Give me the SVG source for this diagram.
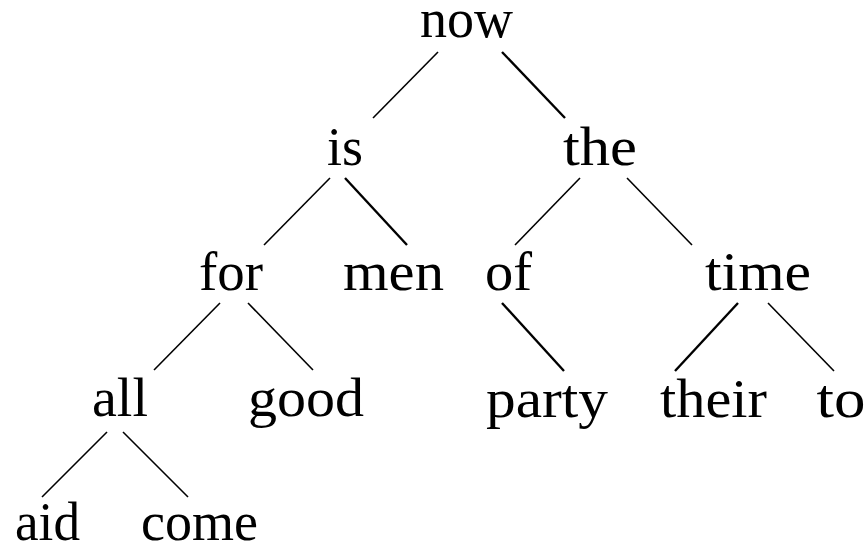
<svg xmlns="http://www.w3.org/2000/svg" width="868" height="546" viewBox="0 0 868 546">
<style>
text{font-family:"Liberation Serif","DejaVu Serif",serif;font-size:54px;fill:#000;text-anchor:middle}
.e line{stroke:#000;stroke-width:1.6;stroke-linecap:butt}
.e line.b{stroke-width:2.4}
</style>
<rect width="868" height="546" fill="#fff"/>
<g class="e" id="edges">
<line x1="438" y1="52" x2="373" y2="118"/>
<line class="b" x1="502" y1="52" x2="565" y2="118"/>
<line x1="330" y1="178" x2="264" y2="245"/>
<line class="b" x1="345" y1="178" x2="407" y2="245"/>
<line x1="580" y1="178" x2="515" y2="245"/>
<line x1="627" y1="178" x2="692" y2="245"/>
<line x1="220" y1="303" x2="154" y2="370"/>
<line x1="248" y1="303" x2="313" y2="370"/>
<line class="b" x1="502" y1="303" x2="564" y2="371"/>
<line class="b" x1="738" y1="303" x2="675" y2="371"/>
<line x1="768" y1="303" x2="834" y2="371"/>
<line x1="107" y1="432" x2="42" y2="497"/>
<line x1="123" y1="432" x2="188" y2="497"/>
</g>
<g id="n-now"><text x="466.5" y="37" textLength="93" lengthAdjust="spacingAndGlyphs">now</text></g>
<g id="n-is"><text x="345" y="165" textLength="36" lengthAdjust="spacingAndGlyphs">is</text></g>
<g id="n-the"><text x="600" y="165" textLength="74" lengthAdjust="spacingAndGlyphs">the</text></g>
<g id="n-for"><text x="231" y="290" textLength="64" lengthAdjust="spacingAndGlyphs">for</text></g>
<g id="n-men"><text x="393.5" y="290" textLength="101" lengthAdjust="spacingAndGlyphs">men</text></g>
<g id="n-of"><text x="508.5" y="290" textLength="47" lengthAdjust="spacingAndGlyphs">of</text></g>
<g id="n-time"><text x="758" y="290" textLength="106" lengthAdjust="spacingAndGlyphs">time</text></g>
<g id="n-all"><text x="120" y="416" textLength="56" lengthAdjust="spacingAndGlyphs">all</text></g>
<g id="n-good"><text x="306" y="416" textLength="116" lengthAdjust="spacingAndGlyphs">good</text></g>
<g id="n-party"><text x="547" y="417" textLength="122" lengthAdjust="spacingAndGlyphs">party</text></g>
<g id="n-their"><text x="713.5" y="417" textLength="107" lengthAdjust="spacingAndGlyphs">their</text></g>
<g id="n-to"><text x="841" y="417" textLength="49" lengthAdjust="spacingAndGlyphs">to</text></g>
<g id="n-aid"><text x="47.5" y="540" textLength="65" lengthAdjust="spacingAndGlyphs">aid</text></g>
<g id="n-come"><text x="199.5" y="540" textLength="117" lengthAdjust="spacingAndGlyphs">come</text></g>
</svg>
